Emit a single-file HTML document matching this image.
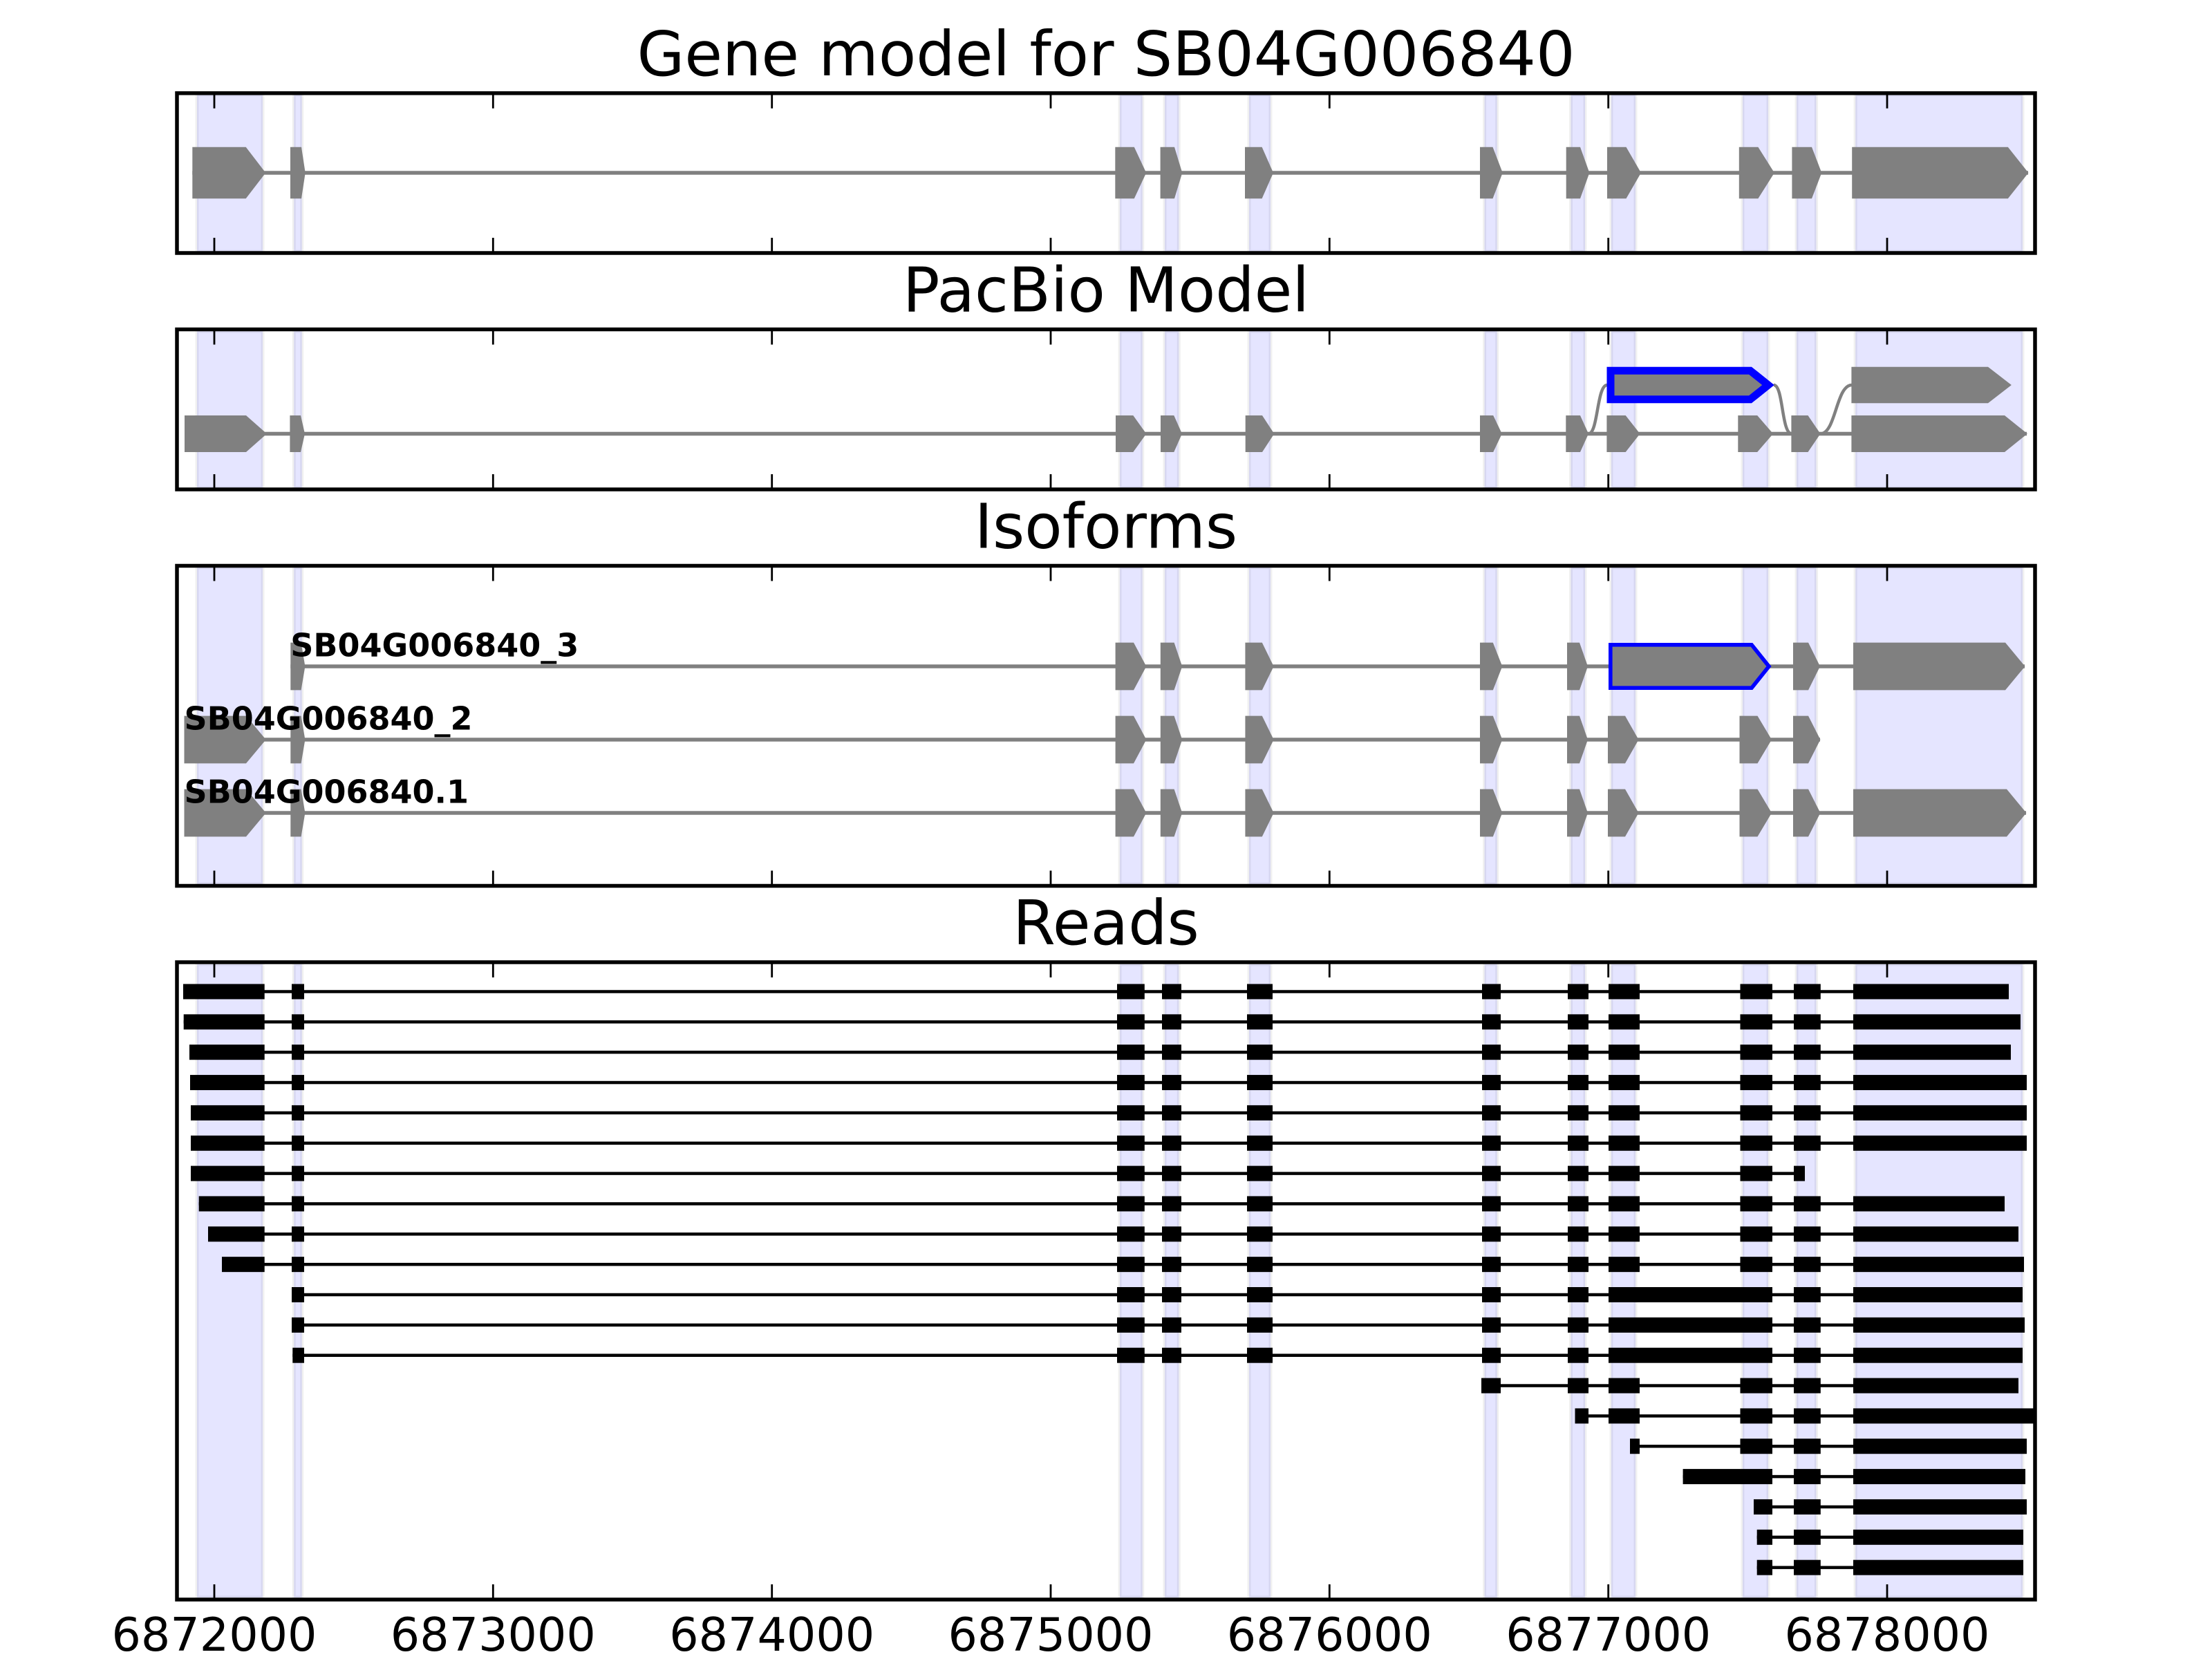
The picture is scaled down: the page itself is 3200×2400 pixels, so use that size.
<!DOCTYPE html>
<html>
<head>
<meta charset="utf-8">
<style>
html,body{margin:0;padding:0;background:#fff;}
svg{display:block;}
text{font-family:"DejaVu Sans","Liberation Sans",sans-serif;}
</style>
</head>
<body>
<svg xmlns="http://www.w3.org/2000/svg" width="3200" height="2400" viewBox="0 0 3200 2400">
<defs>
  <g id="ticks" stroke="#000" stroke-width="2.8">
    <line x1="310" y1="0" x2="310" y2="22"/>
    <line x1="713.3" y1="0" x2="713.3" y2="22"/>
    <line x1="1116.7" y1="0" x2="1116.7" y2="22"/>
    <line x1="1520" y1="0" x2="1520" y2="22"/>
    <line x1="1923.3" y1="0" x2="1923.3" y2="22"/>
    <line x1="2326.7" y1="0" x2="2326.7" y2="22"/>
    <line x1="2730" y1="0" x2="2730" y2="22"/>
  </g>
  <clipPath id="clip4"><rect x="256" y="1392" width="2688" height="922"/></clipPath>
</defs>

<rect x="0" y="0" width="3200" height="2400" fill="#fff"/>

<!-- ===== Titles ===== -->
<g font-size="88.9" text-anchor="middle" fill="#000">
  <text x="1600" y="108.8">Gene model for SB04G006840</text>
  <text x="1600" y="450.5">PacBio Model</text>
  <text x="1600" y="792.5">Isoforms</text>
  <text x="1600" y="1366">Reads</text>
</g>

<!-- ===== Panel 1: Gene model ===== -->
<g fill="#e5e5ff" stroke="rgba(0,0,0,0.06)" stroke-width="5">
  <rect x="285" y="137" width="95" height="227"/>
  <rect x="425.3" y="137" width="11.4" height="227"/>
  <rect x="1620" y="137" width="32.7" height="227"/>
  <rect x="1685" y="137" width="20.3" height="227"/>
  <rect x="1807" y="137" width="31" height="227"/>
  <rect x="2147.6" y="137" width="18.1" height="227"/>
  <rect x="2272.5" y="137" width="20.5" height="227"/>
  <rect x="2331" y="137" width="35" height="227"/>
  <rect x="2521" y="137" width="37" height="227"/>
  <rect x="2599" y="137" width="28.5" height="227"/>
  <rect x="2684.2" y="137" width="241.8" height="227"/>
</g>
<line x1="278.3" y1="250" x2="2934" y2="250" stroke="#808080" stroke-width="5.5"/>
<g fill="#808080">
  <polygon points="278.3,212.7 355.7,212.7 384.3,250 355.7,287.3 278.3,287.3"/>
  <polygon points="420,212.7 436,212.7 441.7,250 436,287.3 420,287.3"/>
  <polygon points="1613.3,212.7 1640.8,212.7 1658.2,250 1640.8,287.3 1613.3,287.3"/>
  <polygon points="1678.6,212.7 1699,212.7 1710.3,250 1699,287.3 1678.6,287.3"/>
  <polygon points="1801,212.7 1825.6,212.7 1842,250 1825.6,287.3 1801,287.3"/>
  <polygon points="2141,212.7 2159.5,212.7 2173.8,250 2159.5,287.3 2141,287.3"/>
  <polygon points="2265.7,212.7 2286,212.7 2299.4,250 2286,287.3 2265.7,287.3"/>
  <polygon points="2325,212.7 2352.5,212.7 2374,250 2352.5,287.3 2325,287.3"/>
  <polygon points="2515.8,212.7 2543.4,212.7 2566.9,250 2543.4,287.3 2515.8,287.3"/>
  <polygon points="2592.4,212.7 2621,212.7 2635.3,250 2621,287.3 2592.4,287.3"/>
  <polygon points="2679.2,212.7 2904.8,212.7 2934.4,250 2904.8,287.3 2679.2,287.3"/>
</g>
<g transform="translate(0,134.8)"><use href="#ticks"/></g>
<g transform="translate(0,366) scale(1,-1)"><use href="#ticks"/></g>
<rect x="256" y="134.8" width="2688" height="231.2" fill="none" stroke="#000" stroke-width="5.5"/>

<!-- ===== Panel 2: PacBio Model ===== -->
<g fill="#e5e5ff" stroke="rgba(0,0,0,0.06)" stroke-width="5">
  <rect x="285" y="479" width="95" height="227"/>
  <rect x="425.3" y="479" width="11.4" height="227"/>
  <rect x="1620" y="479" width="32.7" height="227"/>
  <rect x="1685" y="479" width="20.3" height="227"/>
  <rect x="1807" y="479" width="31" height="227"/>
  <rect x="2147.6" y="479" width="18.1" height="227"/>
  <rect x="2272.5" y="479" width="20.5" height="227"/>
  <rect x="2331" y="479" width="35" height="227"/>
  <rect x="2521" y="479" width="37" height="227"/>
  <rect x="2599" y="479" width="28.5" height="227"/>
  <rect x="2684.2" y="479" width="241.8" height="227"/>
</g>
<line x1="267" y1="627.5" x2="2932" y2="627.5" stroke="#808080" stroke-width="5.5"/>
<g fill="none" stroke="#808080" stroke-width="4.5">
  <path d="M2298,627.5 C2312,627.5 2310,557 2325,557"/>
  <path d="M2566,557 C2580,557 2577,627.5 2592,627.5"/>
  <path d="M2633.5,627.5 C2656,627.5 2656,557 2679,557"/>
</g>
<g fill="#808080">
  <polygon points="267,601 356,601 386,627.5 356,654 267,654"/>
  <polygon points="419.4,601 435,601 441,627.5 435,654 419.4,654"/>
  <polygon points="1614,601 1639.3,601 1658.3,627.5 1639.3,654 1614,654"/>
  <polygon points="1679,601 1698.3,601 1710,627.5 1698.3,654 1679,654"/>
  <polygon points="1801.7,601 1826,601 1843.3,627.5 1826,654 1801.7,654"/>
  <polygon points="2141,601 2160.2,601 2172.8,627.5 2160.2,654 2141,654"/>
  <polygon points="2265.3,601 2286,601 2298,627.5 2286,654 2265.3,654"/>
  <polygon points="2324.4,601 2351.7,601 2372.5,627.5 2351.7,654 2324.4,654"/>
  <polygon points="2514.3,601 2542.2,601 2565.1,627.5 2542.2,654 2514.3,654"/>
  <polygon points="2591.4,601 2615.5,601 2633.5,627.5 2615.5,654 2591.4,654"/>
  <polygon points="2678.4,601 2900,601 2932.9,627.5 2900,654 2678.4,654"/>
  <polygon points="2678.4,530.7 2876,530.7 2909.9,557 2876,583.3 2678.4,583.3"/>
</g>
<polygon points="2330,536.2 2532,536.2 2558,557 2532,577.8 2330,577.8" fill="#808080" stroke="#0000ff" stroke-width="11" stroke-linejoin="miter" stroke-miterlimit="10"/>
<g transform="translate(0,476.5)"><use href="#ticks"/></g>
<g transform="translate(0,708) scale(1,-1)"><use href="#ticks"/></g>
<rect x="256" y="476.5" width="2688" height="231.5" fill="none" stroke="#000" stroke-width="5.5"/>

<!-- ===== Panel 3: Isoforms ===== -->
<g fill="#e5e5ff" stroke="rgba(0,0,0,0.06)" stroke-width="5">
  <rect x="285" y="821" width="95" height="458"/>
  <rect x="425.3" y="821" width="11.4" height="458"/>
  <rect x="1620" y="821" width="32.7" height="458"/>
  <rect x="1685" y="821" width="20.3" height="458"/>
  <rect x="1807" y="821" width="31" height="458"/>
  <rect x="2147.6" y="821" width="18.1" height="458"/>
  <rect x="2272.5" y="821" width="20.5" height="458"/>
  <rect x="2331" y="821" width="35" height="458"/>
  <rect x="2521" y="821" width="37" height="458"/>
  <rect x="2599" y="821" width="28.5" height="458"/>
  <rect x="2684.2" y="821" width="241.8" height="458"/>
</g>
<g stroke="#808080" stroke-width="5.5">
  <line x1="420.3" y1="964" x2="2929" y2="964"/>
  <line x1="266.5" y1="1070" x2="2633" y2="1070"/>
  <line x1="266.5" y1="1176" x2="2931" y2="1176"/>
</g>
<!-- isoform _3 -->
<g fill="#808080">
  <polygon points="420.3,929.6 435.6,929.6 441.4,964 435.6,998.4 420.3,998.4"/>
  <polygon points="1613.6,929.6 1640,929.6 1658.3,964 1640,998.4 1613.6,998.4"/>
  <polygon points="1678.8,929.6 1698.6,929.6 1710.2,964 1698.6,998.4 1678.8,998.4"/>
  <polygon points="1801.4,929.6 1825.8,929.6 1842.6,964 1825.8,998.4 1801.4,998.4"/>
  <polygon points="2141,929.6 2159.8,929.6 2173.3,964 2159.8,998.4 2141,998.4"/>
  <polygon points="2267,929.6 2285,929.6 2297,964 2285,998.4 2267,998.4"/>
  <polygon points="2594,929.6 2616,929.6 2633,964 2616,998.4 2594,998.4"/>
  <polygon points="2681,929.6 2901,929.6 2929.5,964 2901,998.4 2681,998.4"/>
</g>
<polygon points="2329.8,932.8 2534,932.8 2559,964 2534,995.2 2329.8,995.2" fill="#808080" stroke="#0000ff" stroke-width="5.6" stroke-linejoin="miter" stroke-miterlimit="10"/>
<!-- isoform _2 -->
<g fill="#808080">
  <polygon points="266.5,1035.6 356,1035.6 384.7,1070 356,1104.4 266.5,1104.4"/>
  <polygon points="420.3,1035.6 435.6,1035.6 441.4,1070 435.6,1104.4 420.3,1104.4"/>
  <polygon points="1613.6,1035.6 1640,1035.6 1658.3,1070 1640,1104.4 1613.6,1104.4"/>
  <polygon points="1678.8,1035.6 1698.6,1035.6 1710.2,1070 1698.6,1104.4 1678.8,1104.4"/>
  <polygon points="1801.4,1035.6 1825.8,1035.6 1842.6,1070 1825.8,1104.4 1801.4,1104.4"/>
  <polygon points="2141,1035.6 2159.8,1035.6 2173.3,1070 2159.8,1104.4 2141,1104.4"/>
  <polygon points="2267,1035.6 2285,1035.6 2297,1070 2285,1104.4 2267,1104.4"/>
  <polygon points="2326,1035.6 2351,1035.6 2370.5,1070 2351,1104.4 2326,1104.4"/>
  <polygon points="2516.5,1035.6 2542.5,1035.6 2563,1070 2542.5,1104.4 2516.5,1104.4"/>
  <polygon points="2594,1035.6 2616,1035.6 2633.4,1070 2616,1104.4 2594,1104.4"/>
</g>
<!-- isoform .1 -->
<g fill="#808080">
  <polygon points="266.5,1141.6 356,1141.6 384.7,1176 356,1210.4 266.5,1210.4"/>
  <polygon points="420.3,1141.6 435.6,1141.6 441.4,1176 435.6,1210.4 420.3,1210.4"/>
  <polygon points="1613.6,1141.6 1640,1141.6 1658.3,1176 1640,1210.4 1613.6,1210.4"/>
  <polygon points="1678.8,1141.6 1698.6,1141.6 1710.2,1176 1698.6,1210.4 1678.8,1210.4"/>
  <polygon points="1801.4,1141.6 1825.8,1141.6 1842.6,1176 1825.8,1210.4 1801.4,1210.4"/>
  <polygon points="2141,1141.6 2159.8,1141.6 2173.3,1176 2159.8,1210.4 2141,1210.4"/>
  <polygon points="2267,1141.6 2285,1141.6 2297,1176 2285,1210.4 2267,1210.4"/>
  <polygon points="2326,1141.6 2351,1141.6 2370.5,1176 2351,1210.4 2326,1210.4"/>
  <polygon points="2516.5,1141.6 2542.5,1141.6 2563,1176 2542.5,1210.4 2516.5,1210.4"/>
  <polygon points="2594,1141.6 2616,1141.6 2633.4,1176 2616,1210.4 2594,1210.4"/>
  <polygon points="2681,1141.6 2903,1141.6 2931.4,1176 2903,1210.4 2681,1210.4"/>
</g>
<g font-size="46" font-weight="bold" fill="#000">
  <text x="420.3" y="949.5">SB04G006840_3</text>
  <text x="266.5" y="1055.5">SB04G006840_2</text>
  <text x="266.5" y="1161.5">SB04G006840.1</text>
</g>
<g transform="translate(0,818.5)"><use href="#ticks"/></g>
<g transform="translate(0,1281.5) scale(1,-1)"><use href="#ticks"/></g>
<rect x="256" y="818.5" width="2688" height="463" fill="none" stroke="#000" stroke-width="5.5"/>

<!-- ===== Panel 4: Reads ===== -->
<g fill="#e5e5ff" stroke="rgba(0,0,0,0.06)" stroke-width="5">
  <rect x="285" y="1395" width="95" height="916"/>
  <rect x="425.3" y="1395" width="11.4" height="916"/>
  <rect x="1620" y="1395" width="32.7" height="916"/>
  <rect x="1685" y="1395" width="20.3" height="916"/>
  <rect x="1807" y="1395" width="31" height="916"/>
  <rect x="2147.6" y="1395" width="18.1" height="916"/>
  <rect x="2272.5" y="1395" width="20.5" height="916"/>
  <rect x="2331" y="1395" width="35" height="916"/>
  <rect x="2521" y="1395" width="37" height="916"/>
  <rect x="2599" y="1395" width="28.5" height="916"/>
  <rect x="2684.2" y="1395" width="241.8" height="916"/>
</g>

<g clip-path="url(#clip4)" fill="#000" stroke="none">
  <!-- Row 1 -->
  <g transform="translate(0,1434.5)">
    <rect x="265" y="-2.25" width="2641" height="4.5"/>
    <rect x="265" y="-11" width="117.7" height="22"/>
    <rect x="422" y="-11" width="18" height="22"/><rect x="1616" y="-11" width="39.8" height="22"/><rect x="1681" y="-11" width="28" height="22"/><rect x="1804" y="-11" width="37" height="22"/><rect x="2144" y="-11" width="27" height="22"/><rect x="2268" y="-11" width="30" height="22"/><rect x="2327" y="-11" width="45" height="22"/><rect x="2517.5" y="-11" width="46.5" height="22"/><rect x="2595" y="-11" width="38.8" height="22"/>
    <rect x="2681" y="-11" width="225" height="22"/>
  </g>
  <!-- Row 2 -->
  <g transform="translate(0,1478.35)">
    <rect x="265.7" y="-2.25" width="2657" height="4.5"/>
    <rect x="265.7" y="-11" width="117" height="22"/>
    <rect x="422" y="-11" width="18" height="22"/><rect x="1616" y="-11" width="39.8" height="22"/><rect x="1681" y="-11" width="28" height="22"/><rect x="1804" y="-11" width="37" height="22"/><rect x="2144" y="-11" width="27" height="22"/><rect x="2268" y="-11" width="30" height="22"/><rect x="2327" y="-11" width="45" height="22"/><rect x="2517.5" y="-11" width="46.5" height="22"/><rect x="2595" y="-11" width="38.8" height="22"/>
    <rect x="2681" y="-11" width="242" height="22"/>
  </g>
  <!-- Row 3 -->
  <g transform="translate(0,1522.2)">
    <rect x="274" y="-2.25" width="2635" height="4.5"/>
    <rect x="274" y="-11" width="108.7" height="22"/>
    <rect x="422" y="-11" width="18" height="22"/><rect x="1616" y="-11" width="39.8" height="22"/><rect x="1681" y="-11" width="28" height="22"/><rect x="1804" y="-11" width="37" height="22"/><rect x="2144" y="-11" width="27" height="22"/><rect x="2268" y="-11" width="30" height="22"/><rect x="2327" y="-11" width="45" height="22"/><rect x="2517.5" y="-11" width="46.5" height="22"/><rect x="2595" y="-11" width="38.8" height="22"/>
    <rect x="2681" y="-11" width="228" height="22"/>
  </g>
  <!-- Row 4 -->
  <g transform="translate(0,1566.05)">
    <rect x="275" y="-2.25" width="2657" height="4.5"/>
    <rect x="275" y="-11" width="107.7" height="22"/>
    <rect x="422" y="-11" width="18" height="22"/><rect x="1616" y="-11" width="39.8" height="22"/><rect x="1681" y="-11" width="28" height="22"/><rect x="1804" y="-11" width="37" height="22"/><rect x="2144" y="-11" width="27" height="22"/><rect x="2268" y="-11" width="30" height="22"/><rect x="2327" y="-11" width="45" height="22"/><rect x="2517.5" y="-11" width="46.5" height="22"/><rect x="2595" y="-11" width="38.8" height="22"/>
    <rect x="2681" y="-11" width="251" height="22"/>
  </g>
  <!-- Row 5 -->
  <g transform="translate(0,1609.9)">
    <rect x="276" y="-2.25" width="2656" height="4.5"/>
    <rect x="276" y="-11" width="106.7" height="22"/>
    <rect x="422" y="-11" width="18" height="22"/><rect x="1616" y="-11" width="39.8" height="22"/><rect x="1681" y="-11" width="28" height="22"/><rect x="1804" y="-11" width="37" height="22"/><rect x="2144" y="-11" width="27" height="22"/><rect x="2268" y="-11" width="30" height="22"/><rect x="2327" y="-11" width="45" height="22"/><rect x="2517.5" y="-11" width="46.5" height="22"/><rect x="2595" y="-11" width="38.8" height="22"/>
    <rect x="2681" y="-11" width="251" height="22"/>
  </g>
  <!-- Row 6 -->
  <g transform="translate(0,1653.75)">
    <rect x="276" y="-2.25" width="2656" height="4.5"/>
    <rect x="276" y="-11" width="106.7" height="22"/>
    <rect x="422" y="-11" width="18" height="22"/><rect x="1616" y="-11" width="39.8" height="22"/><rect x="1681" y="-11" width="28" height="22"/><rect x="1804" y="-11" width="37" height="22"/><rect x="2144" y="-11" width="27" height="22"/><rect x="2268" y="-11" width="30" height="22"/><rect x="2327" y="-11" width="45" height="22"/><rect x="2517.5" y="-11" width="46.5" height="22"/><rect x="2595" y="-11" width="38.8" height="22"/>
    <rect x="2681" y="-11" width="251" height="22"/>
  </g>
  <!-- Row 7 -->
  <g transform="translate(0,1697.6)">
    <rect x="276" y="-2.25" width="2335" height="4.5"/>
    <rect x="276" y="-11" width="106.7" height="22"/>
    <rect x="422" y="-11" width="18" height="22"/><rect x="1616" y="-11" width="39.8" height="22"/><rect x="1681" y="-11" width="28" height="22"/><rect x="1804" y="-11" width="37" height="22"/><rect x="2144" y="-11" width="27" height="22"/><rect x="2268" y="-11" width="30" height="22"/><rect x="2327" y="-11" width="45" height="22"/><rect x="2517.5" y="-11" width="46.5" height="22"/>
    <rect x="2595" y="-11" width="16" height="22"/>
  </g>
  <!-- Row 8 -->
  <g transform="translate(0,1741.45)">
    <rect x="287.7" y="-2.25" width="2612.3" height="4.5"/>
    <rect x="287.7" y="-11" width="95" height="22"/>
    <rect x="422" y="-11" width="18" height="22"/><rect x="1616" y="-11" width="39.8" height="22"/><rect x="1681" y="-11" width="28" height="22"/><rect x="1804" y="-11" width="37" height="22"/><rect x="2144" y="-11" width="27" height="22"/><rect x="2268" y="-11" width="30" height="22"/><rect x="2327" y="-11" width="45" height="22"/><rect x="2517.5" y="-11" width="46.5" height="22"/><rect x="2595" y="-11" width="38.8" height="22"/>
    <rect x="2681" y="-11" width="219" height="22"/>
  </g>
  <!-- Row 9 -->
  <g transform="translate(0,1785.3)">
    <rect x="301" y="-2.25" width="2619" height="4.5"/>
    <rect x="301" y="-11" width="81.7" height="22"/>
    <rect x="422" y="-11" width="18" height="22"/><rect x="1616" y="-11" width="39.8" height="22"/><rect x="1681" y="-11" width="28" height="22"/><rect x="1804" y="-11" width="37" height="22"/><rect x="2144" y="-11" width="27" height="22"/><rect x="2268" y="-11" width="30" height="22"/><rect x="2327" y="-11" width="45" height="22"/><rect x="2517.5" y="-11" width="46.5" height="22"/><rect x="2595" y="-11" width="38.8" height="22"/>
    <rect x="2681" y="-11" width="239" height="22"/>
  </g>
  <!-- Row 10 -->
  <g transform="translate(0,1829.15)">
    <rect x="321" y="-2.25" width="2607" height="4.5"/>
    <rect x="321" y="-11" width="61.7" height="22"/>
    <rect x="422" y="-11" width="18" height="22"/><rect x="1616" y="-11" width="39.8" height="22"/><rect x="1681" y="-11" width="28" height="22"/><rect x="1804" y="-11" width="37" height="22"/><rect x="2144" y="-11" width="27" height="22"/><rect x="2268" y="-11" width="30" height="22"/><rect x="2327" y="-11" width="45" height="22"/><rect x="2517.5" y="-11" width="46.5" height="22"/><rect x="2595" y="-11" width="38.8" height="22"/>
    <rect x="2681" y="-11" width="247" height="22"/>
  </g>
  <!-- Row 11 -->
  <g transform="translate(0,1873)">
    <rect x="422" y="-2.25" width="2504" height="4.5"/>
    <rect x="422" y="-11" width="18" height="22"/><rect x="1616" y="-11" width="39.8" height="22"/><rect x="1681" y="-11" width="28" height="22"/><rect x="1804" y="-11" width="37" height="22"/><rect x="2144" y="-11" width="27" height="22"/><rect x="2268" y="-11" width="30" height="22"/>
    <rect x="2327" y="-11" width="237" height="22"/><rect x="2595" y="-11" width="38.8" height="22"/>
    <rect x="2681" y="-11" width="245" height="22"/>
  </g>
  <!-- Row 12 -->
  <g transform="translate(0,1916.85)">
    <rect x="422" y="-2.25" width="2507" height="4.5"/>
    <rect x="422" y="-11" width="18" height="22"/><rect x="1616" y="-11" width="39.8" height="22"/><rect x="1681" y="-11" width="28" height="22"/><rect x="1804" y="-11" width="37" height="22"/><rect x="2144" y="-11" width="27" height="22"/><rect x="2268" y="-11" width="30" height="22"/>
    <rect x="2327" y="-11" width="237" height="22"/><rect x="2595" y="-11" width="38.8" height="22"/>
    <rect x="2681" y="-11" width="248" height="22"/>
  </g>
  <!-- Row 13 -->
  <g transform="translate(0,1960.7)">
    <rect x="423.3" y="-2.25" width="2502.7" height="4.5"/>
    <rect x="423.3" y="-11" width="16.7" height="22"/><rect x="1616" y="-11" width="39.8" height="22"/><rect x="1681" y="-11" width="28" height="22"/><rect x="1804" y="-11" width="37" height="22"/><rect x="2144" y="-11" width="27" height="22"/><rect x="2268" y="-11" width="30" height="22"/>
    <rect x="2327" y="-11" width="237" height="22"/><rect x="2595" y="-11" width="38.8" height="22"/>
    <rect x="2681" y="-11" width="245" height="22"/>
  </g>
  <!-- Row 14 -->
  <g transform="translate(0,2004.55)">
    <rect x="2143" y="-2.25" width="777" height="4.5"/>
    <rect x="2143" y="-11" width="28" height="22"/><rect x="2268" y="-11" width="30" height="22"/><rect x="2327" y="-11" width="45" height="22"/><rect x="2517.5" y="-11" width="46.5" height="22"/><rect x="2595" y="-11" width="38.8" height="22"/>
    <rect x="2681" y="-11" width="239" height="22"/>
  </g>
  <!-- Row 15 -->
  <g transform="translate(0,2048.4)">
    <rect x="2278.5" y="-2.25" width="670" height="4.5"/>
    <rect x="2278.5" y="-11" width="19.5" height="22"/><rect x="2327" y="-11" width="45" height="22"/><rect x="2517.5" y="-11" width="46.5" height="22"/><rect x="2595" y="-11" width="38.8" height="22"/>
    <rect x="2681" y="-11" width="270" height="22"/>
  </g>
  <!-- Row 16 -->
  <g transform="translate(0,2092.25)">
    <rect x="2358" y="-2.25" width="574" height="4.5"/>
    <rect x="2358" y="-11" width="14" height="22"/><rect x="2517.5" y="-11" width="46.5" height="22"/><rect x="2595" y="-11" width="38.8" height="22"/>
    <rect x="2681" y="-11" width="251" height="22"/>
  </g>
  <!-- Row 17 -->
  <g transform="translate(0,2136.1)">
    <rect x="2434.6" y="-2.25" width="495.4" height="4.5"/>
    <rect x="2434.6" y="-11" width="129.4" height="22"/><rect x="2595" y="-11" width="38.8" height="22"/>
    <rect x="2681" y="-11" width="249" height="22"/>
  </g>
  <!-- Row 18 -->
  <g transform="translate(0,2179.95)">
    <rect x="2537" y="-2.25" width="395" height="4.5"/>
    <rect x="2537" y="-11" width="27" height="22"/><rect x="2595" y="-11" width="38.8" height="22"/>
    <rect x="2681" y="-11" width="251" height="22"/>
  </g>
  <!-- Row 19 -->
  <g transform="translate(0,2223.8)">
    <rect x="2541.7" y="-2.25" width="385.3" height="4.5"/>
    <rect x="2541.7" y="-11" width="22.3" height="22"/><rect x="2595" y="-11" width="38.8" height="22"/>
    <rect x="2681" y="-11" width="246" height="22"/>
  </g>
  <!-- Row 20 -->
  <g transform="translate(0,2267.65)">
    <rect x="2541.7" y="-2.25" width="385.3" height="4.5"/>
    <rect x="2541.7" y="-11" width="22.3" height="22"/><rect x="2595" y="-11" width="38.8" height="22"/>
    <rect x="2681" y="-11" width="246" height="22"/>
  </g>
</g>
<g transform="translate(0,1392)"><use href="#ticks"/></g>
<g transform="translate(0,2314) scale(1,-1)"><use href="#ticks"/></g>
<rect x="256" y="1392" width="2688" height="922" fill="none" stroke="#000" stroke-width="5.5"/>

<!-- ===== X tick labels ===== -->
<g font-size="66.7" text-anchor="middle" fill="#000">
  <text x="310" y="2388">6872000</text>
  <text x="713.3" y="2388">6873000</text>
  <text x="1116.7" y="2388">6874000</text>
  <text x="1520" y="2388">6875000</text>
  <text x="1923.3" y="2388">6876000</text>
  <text x="2326.7" y="2388">6877000</text>
  <text x="2730" y="2388">6878000</text>
</g>
</svg>
</body>
</html>
